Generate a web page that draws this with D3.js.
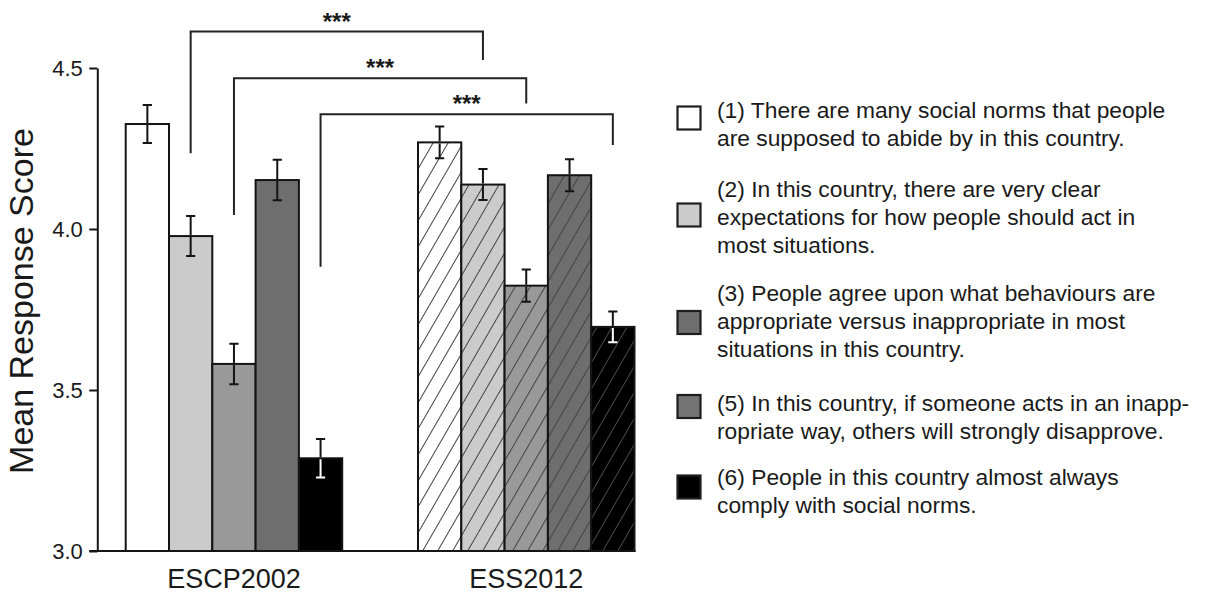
<!DOCTYPE html>
<html>
<head>
<meta charset="utf-8">
<script src="https://cdn.jsdelivr.net/npm/d3@7"></script>
<style>
  html, body { margin: 0; padding: 0; background: #fff; }
  svg { display: block; font-family: "Liberation Sans", Arial, sans-serif; }
</style>
</head>
<body>
<svg id="chart" width="1220" height="594"></svg>
<script>
// ---- data ----
const groups = ["ESCP2002", "ESS2012"];
const items = ["(1)", "(2)", "(3)", "(5)", "(6)"];
const escpMeans = [4.326, 3.978, 3.581, 4.152, 3.288];
const escpSE    = [0.059, 0.062, 0.063, 0.063, 0.060];
const essMeans  = [4.269, 4.138, 3.824, 4.167, 3.696];
const essSE     = [0.049, 0.048, 0.050, 0.050, 0.048];
const yTicks = [3.0, 3.5, 4.0, 4.5];
const yLabel = "Mean Response Score";
const barColors = ["#ffffff", "#cbcbcb", "#999999", "#6e6e6e", "#000000"];
const legendColors = ["#ffffff", "#cbcbcb", "#6e6e6e", "#737373", "#000000"];
const legendLines = [
  ["(1) There are many social norms that people", "are supposed to abide by in this country."],
  ["(2) In this country, there are very clear", "expectations for how people should act in", "most situations."],
  ["(3) People agree upon what behaviours are", "appropriate versus inappropriate in most", "situations in this country."],
  ["(5) In this country, if someone acts in an inapp-", "ropriate way, others will strongly disapprove."],
  ["(6) People in this country almost always", "comply with social norms."]
];
// significance brackets: item index compared across surveys, in data units
const bracketItem     = [1, 2, 4];
const bracketLevel    = [4.613, 4.468, 4.356];
const bracketLeftEnd  = [4.235, 4.0435, 3.883];
const bracketRightEnd = [4.525, 4.390, 4.261];
const bracketLabel    = ["***", "***", "***"];

// ---- layout ----
const svg = d3.select("#chart");
const ink = "#141414";
const y = d3.scaleLinear().domain([3, 4.5]).range([551, 68]);
const x0 = d3.scaleBand().domain(groups).range([97.3, 662.9]).paddingInner(0.2593).paddingOuter(0.0972);
const x1 = d3.scaleBand().domain(d3.range(items.length)).range([0, x0.bandwidth()]).padding(0);
const legendFirstBaseline = [118, 197, 301, 411, 485];
const legendBoxCenter = [118, 215, 322.5, 406.5, 487];

const series = [
  { group: groups[0], means: escpMeans, se: escpSE, hatched: false },
  { group: groups[1], means: essMeans, se: essSE, hatched: true }
];

// hatch patterns
const defs = svg.append("defs");
barColors.forEach((c, i) => {
  const p = defs.append("pattern")
    .attr("id", "hatch" + i)
    .attr("patternUnits", "userSpaceOnUse")
    .attr("width", 13).attr("height", 13)
    .attr("patternTransform", "rotate(30)");
  p.append("rect").attr("width", 13).attr("height", 13).attr("fill", c);
  p.append("line").attr("x1", 6.5).attr("x2", 6.5).attr("y1", -1).attr("y2", 14)
    .attr("stroke", i === 4 ? "#4a4a4a" : "#444").attr("stroke-width", 1);
});

// bars
series.forEach(s => {
  const g = svg.append("g").attr("transform", `translate(${x0(s.group)},0)`);
  s.means.forEach((m, i) => {
    g.append("rect")
      .attr("x", x1(i)).attr("width", x1.bandwidth())
      .attr("y", y(m)).attr("height", y(3) - y(m))
      .attr("fill", s.hatched ? `url(#hatch${i})` : barColors[i])
      .attr("stroke", ink).attr("stroke-width", 2);
  });
  // error bars
  s.means.forEach((m, i) => {
    const cx = x1(i) + x1.bandwidth() / 2;
    const hi = m + s.se[i], lo = m - s.se[i];
    const inner = barColors[i] === "#000000" ? "#ffffff" : ink;
    const cw = 4.6;
    g.append("path")
      .attr("d", `M${cx - cw},${y(hi)}H${cx + cw}M${cx},${y(hi)}V${y(m) - 1}`)
      .attr("stroke", ink).attr("stroke-width", 2).attr("fill", "none");
    g.append("path")
      .attr("d", `M${cx},${y(m) + 1}V${y(lo)}M${cx - cw},${y(lo)}H${cx + cw}`)
      .attr("stroke", inner).attr("stroke-width", 2).attr("fill", "none");
  });
});

// y axis
const yAxis = d3.axisLeft(y).tickValues(yTicks).tickFormat(d3.format(".1f"))
  .tickSize(8).tickPadding(6.5).tickSizeOuter(0);
const ya = svg.append("g").attr("transform", "translate(97.3,0)").call(yAxis);
ya.select(".domain").attr("stroke", ink).attr("stroke-width", 2);
ya.selectAll(".tick line").attr("stroke", ink).attr("stroke-width", 2);
ya.selectAll(".tick text").attr("fill", "#1a1a1a").style("font-size", "22px")
  .style("font-family", '"Liberation Sans", Arial, sans-serif');

// baseline
const lastBand = x0(groups[groups.length - 1]) + x0.bandwidth();
svg.append("line").attr("x1", 89.3).attr("x2", lastBand + 1).attr("y1", y(3)).attr("y2", y(3))
  .attr("stroke", ink).attr("stroke-width", 2.2);

// category labels
svg.selectAll(".cat").data(groups).enter().append("text")
  .attr("x", d => x0(d) + x0.bandwidth() / 2)
  .attr("y", 588)
  .attr("text-anchor", "middle")
  .style("font-size", "27px").attr("fill", "#1a1a1a")
  .text(d => d);

// y label
svg.append("text")
  .attr("transform", "translate(33,301) rotate(-90)")
  .attr("text-anchor", "middle")
  .style("font-size", "34px").attr("fill", "#1a1a1a")
  .text(yLabel);

// brackets
bracketItem.forEach((it, k) => {
  const xl = x0(groups[0]) + x1(it) + x1.bandwidth() / 2;
  const xr = x0(groups[1]) + x1(it) + x1.bandwidth() / 2;
  svg.append("path")
    .attr("d", `M${xl},${y(bracketLeftEnd[k])}V${y(bracketLevel[k])}H${xr}V${y(bracketRightEnd[k])}`)
    .attr("fill", "none").attr("stroke", "#222").attr("stroke-width", 2);
  svg.append("text")
    .attr("x", (xl + xr) / 2).attr("y", y(bracketLevel[k]) - 2)
    .attr("text-anchor", "middle")
    .style("font-size", "24px").style("font-weight", "bold").attr("fill", "#1a1a1a")
    .text(bracketLabel[k]);
});

// legend
const lg = svg.append("g");
legendLines.forEach((lines, i) => {
  lg.append("rect")
    .attr("x", 677.5).attr("y", legendBoxCenter[i] - 11.5)
    .attr("width", 23).attr("height", 23)
    .attr("fill", legendColors[i]).attr("stroke", "#1e1e1e").attr("stroke-width", 2.2);
  const t = lg.append("text").style("font-size", "22.8px").attr("fill", "#1a1a1a");
  lines.forEach((ln, j) => {
    t.append("tspan").attr("x", 717).attr("y", legendFirstBaseline[i] + j * 28).text(ln);
  });
});
</script>
</body>
</html>
